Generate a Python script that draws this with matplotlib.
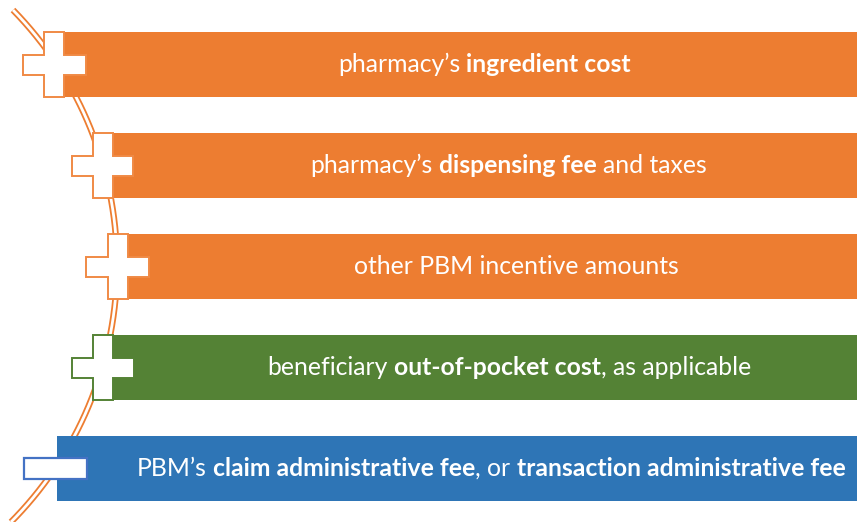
import numpy as np
import matplotlib
matplotlib.use("Agg")
import matplotlib.pyplot as plt
from matplotlib.patches import Rectangle, Polygon

# ---- data ----
row_segments = [
    [("pharmacy’s ", False), ("ingredient cost", True)],
    [("pharmacy’s ", False), ("dispensing fee", True), (" and taxes", False)],
    [("other PBM incentive amounts", False)],
    [("beneficiary ", False), ("out-of-pocket cost", True), (", as applicable", False)],
    [("PBM’s ", False), ("claim administrative fee", True), (", or ", False),
     ("transaction administrative fee", True)],
]
row_signs = ["+", "+", "+", "+", "-"]
row_colors = ["#ED7D31", "#ED7D31", "#ED7D31", "#548235", "#2E75B6"]
sign_edge_colors = ["#F08A45", "#F08A45", "#F08A45", "#548235", "#4472C4"]

# ---- layout (pixel coordinates) ----
W, H = 857, 522
bar_left = [44, 93, 108, 93, 57]
bar_top = [32, 133, 234, 335, 436]
bar_h = 65
virtual_right = 925  # bars continue beyond the right edge
plus_arm = 20        # width of plus arms
plus_span = [(23, 86), (72, 133), (86, 149), (72, 134), (24, 87)]

FONT = "Lato"
FS = 17.8

fig = plt.figure(figsize=(W / 100, H / 100), dpi=100)
ax = fig.add_axes([0, 0, 1, 1])
ax.set_xlim(0, W)
ax.set_ylim(H, 0)
ax.axis("off")

# arc (double line)
cx, cy, R = -247.6, 265.0, 364.6
ys = np.linspace(10, 522, 400)
xs = cx + np.sqrt(R ** 2 - (ys - cy) ** 2)
ax.plot(xs, ys, color="#ED7D31", lw=4.6, solid_capstyle="butt", zorder=1)
ax.plot(xs, ys, color="white", lw=2.0, solid_capstyle="butt", zorder=1.1)

renderer = fig.canvas.get_renderer()


def text_width(s, bold):
    t = ax.text(0, 0, s, fontsize=FS, family=FONT,
                fontweight="bold" if bold else "normal")
    w = t.get_window_extent(renderer).width
    t.remove()
    return w


def seg_width(s, bold):
    core = s.strip()
    n_lead = len(s) - len(s.lstrip(" "))
    n_trail = len(s) - len(s.rstrip(" "))
    sp = text_width("a a", bold) - text_width("aa", bold)
    return n_lead * sp, text_width(core, bold) if core else 0, n_trail * sp


for i in range(5):
    left, top = bar_left[i], bar_top[i]
    col = row_colors[i]
    ax.add_patch(Rectangle((left, top), W - left + 5, bar_h, facecolor=col,
                           edgecolor="none", zorder=2))
    # sign
    hx0, hx1 = plus_span[i]
    yc = top + bar_h / 2
    if row_signs[i] == "+":
        vx0, vx1 = left, left + plus_arm
        y0, y1 = top, top + bar_h
        hy0, hy1 = yc - plus_arm / 2, yc + plus_arm / 2
        pts = [(vx0, y0), (vx1, y0), (vx1, hy0), (hx1, hy0), (hx1, hy1),
               (vx1, hy1), (vx1, y1), (vx0, y1), (vx0, hy1), (hx0, hy1),
               (hx0, hy0), (vx0, hy0)]
        ax.add_patch(Polygon(pts, closed=True, facecolor="white",
                             edgecolor=sign_edge_colors[i], lw=1.4, zorder=3))
    else:
        ax.add_patch(Rectangle((hx0, yc - 10.5), hx1 - hx0, 21,
                               facecolor="white",
                               edgecolor=sign_edge_colors[i], lw=1.6, zorder=3))
    # text
    segs = row_segments[i]
    parts = [seg_width(s, b) for s, b in segs]
    total = sum(a + b + c for a, b, c in parts)
    center = (left + virtual_right) / 2
    x = center - total / 2
    base = yc + 7.5
    for (s, b), (lead, core, trail) in zip(segs, parts):
        x += lead
        ax.text(x, base, s.strip(), fontsize=FS, family=FONT,
                fontweight="bold" if b else "normal", color="white",
                ha="left", va="baseline", zorder=4)
        x += core + trail

fig.savefig("out.png", dpi=100)
